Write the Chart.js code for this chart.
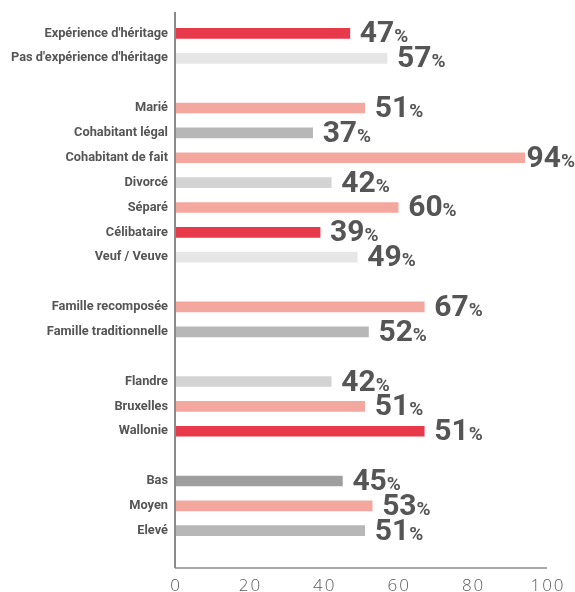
<!DOCTYPE html>
<html>
<head>
<meta charset="utf-8">
<script src="https://cdn.jsdelivr.net/npm/chart.js@4"></script>
<style>
  html, body { margin: 0; padding: 0; background: #fff; }
  #wrap { width: 575px; height: 592px; position: relative; }
</style>
</head>
<body>
<div id="wrap"><canvas id="heritChart"></canvas></div>
<script>
// rows, "" = blank spacer row between groups
const categories = [
    "Expérience d'héritage", "Pas d'expérience d'héritage", "",
    "Marié", "Cohabitant légal", "Cohabitant de fait", "Divorcé", "Séparé", "Célibataire", "Veuf / Veuve", "",
    "Famille recomposée", "Famille traditionnelle", "",
    "Flandre", "Bruxelles", "Wallonie", "",
    "Bas", "Moyen", "Elevé", ""
];
// bar lengths as drawn (Wallonie bar is drawn at ~67 though labelled 51)
const barValues = [47, 57, null, 51, 37, 94, 42, 60, 39, 49, null, 67, 52, null, 42, 51, 67, null, 45, 53, 51, null];
const valueLabels = ["47", "57", "", "51", "37", "94", "42", "60", "39", "49", "", "67", "52", "", "42", "51", "51", "", "45", "53", "51", ""];
const xTicks = [0, 20, 40, 60, 80, 100];

const RED = "#e8394b", SALMON = "#f4a79f", PALE = "#e6e6e6", LIGHT = "#d3d3d3", MID = "#b7b7b7", DARK = "#9e9e9e";
const barColors = [RED, PALE, null, SALMON, MID, SALMON, LIGHT, SALMON, RED, PALE, null,
    SALMON, MID, null, LIGHT, SALMON, RED, null, DARK, SALMON, MID, null];

const valueLabelPlugin = {
    id: "valueLabels",
    afterDatasetsDraw(chart) {
        const ctx = chart.ctx;
        const meta = chart.getDatasetMeta(0);
        ctx.save();
        ctx.fillStyle = "#555555";
        ctx.textBaseline = "alphabetic";
        ctx.textAlign = "left";
        meta.data.forEach((bar, i) => {
            const txt = valueLabels[i];
            if (!txt) return;
            ctx.font = "bold 30px Roboto";
            const w = ctx.measureText(txt).width;
            ctx.font = "bold 19px Roboto";
            const pw = ctx.measureText("%").width;
            // keep the label inside the canvas (94% sits right against the bar)
            const x = Math.min(bar.x + 10, chart.width - w - pw);
            const y = bar.y + 9;
            ctx.font = "bold 30px Roboto";
            ctx.fillText(txt, x, y);
            ctx.font = "bold 19px Roboto";
            ctx.fillText("%", x + w, y);
        });
        ctx.restore();
    }
};

const axisPlugin = {
    id: "axisLines",
    afterDraw(chart) {
        const { ctx, chartArea } = chart;
        const xs = chart.scales.x;
        ctx.save();
        ctx.strokeStyle = "#8a8a8a";
        ctx.lineWidth = 2;
        ctx.beginPath();
        ctx.moveTo(chartArea.left, 12);
        ctx.lineTo(chartArea.left, chartArea.bottom);
        ctx.stroke();
        ctx.lineWidth = 1.5;
        ctx.beginPath();
        ctx.moveTo(chartArea.left, chartArea.bottom);
        ctx.lineTo(chartArea.right, chartArea.bottom);
        ctx.stroke();
        // x tick labels, wide-spaced light digits
        ctx.fillStyle = "#5a5a5a";
        ctx.font = "300 17px 'Open Sans'";
        ctx.letterSpacing = "2px";
        ctx.textBaseline = "alphabetic";
        xTicks.forEach(v => {
            const t = String(v);
            const w = ctx.measureText(t).width - 2;
            ctx.fillText(t, xs.getPixelForValue(v) - w / 2, chartArea.bottom + 23);
        });
        ctx.restore();
    }
};

function bootChart() {
    const cv = document.getElementById("heritChart");
    new Chart(cv.getContext("2d"), {
        type: "bar",
        data: {
            labels: categories,
            datasets: [{ data: barValues, backgroundColor: barColors, barThickness: 10, borderWidth: 0 }]
        },
        options: {
            indexAxis: "y",
            responsive: true,
            maintainAspectRatio: false,
            animation: false,
            layout: { padding: { top: 21, right: 28, left: 0, bottom: 0 } },
            plugins: { legend: { display: false }, tooltip: { enabled: false } },
            scales: {
                x: {
                    min: 0, max: 100,
                    afterBuildTicks: (axis) => { axis.ticks = xTicks.map(v => ({ value: v })); },
                    afterFit: (axis) => { axis.height = 24; },
                    grid: { display: false, drawTicks: false },
                    border: { display: false },
                    ticks: { display: false }
                },
                y: {
                    afterFit: (axis) => { axis.width = 175; },
                    grid: { display: false, drawTicks: false },
                    border: { display: false },
                    ticks: { padding: 7, color: "#555", autoSkip: false, font: { family: "Roboto", size: 12.8, weight: "bold" } }
                }
            }
        },
        plugins: [valueLabelPlugin, axisPlugin]
    });
}

document.addEventListener("DOMContentLoaded", bootChart);
</script>
</body>
</html>
